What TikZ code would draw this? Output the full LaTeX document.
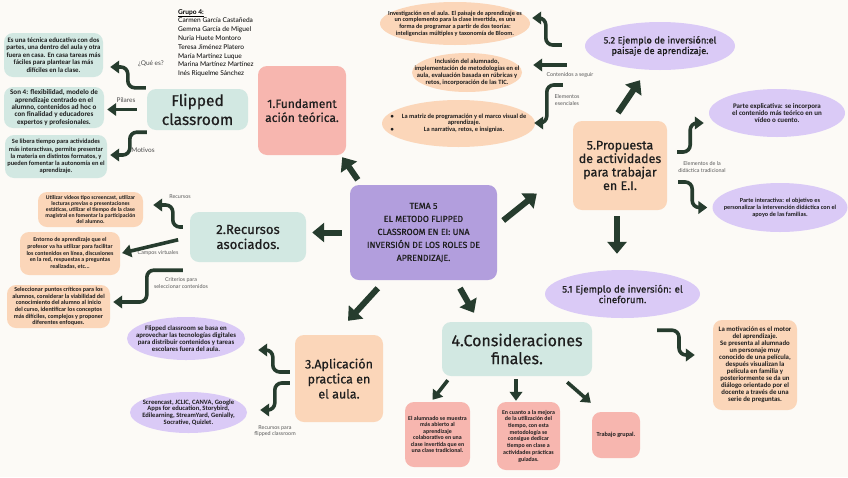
\documentclass[tikz,border=0pt]{standalone}
\usepackage{fontspec}
\setmainfont{Carlito}
\newfontfamily\titlefont{Fira Sans}[FakeBold=0.6]
\newfontfamily\labelfont{Lato}
\usepackage{tikz}
\usetikzlibrary{arrows.meta}
\usetikzlibrary{shapes.geometric}
\definecolor{paper}{HTML}{FCFAF6}
\definecolor{mint}{HTML}{D2E8E2}
\definecolor{peach}{HTML}{FBD6B9}
\definecolor{salmon}{HTML}{F7B6AF}
\definecolor{lilac}{HTML}{DACAF6}
\definecolor{temacol}{HTML}{B29EDD}
\definecolor{arrowcol}{HTML}{263C2E}
\definecolor{ink}{HTML}{1E1E1E}

\begin{document}
\begin{tikzpicture}[x=1pt,y=-1pt,
  card/.style={rectangle, rounded corners=9pt, inner sep=0pt, align=center, text=ink},
  oval/.style={ellipse, inner sep=-30pt, align=center, text=ink},
  sm/.style 2 args={font=\bfseries\fontsize{#1}{#2}\selectfont},
  ttl/.style 2 args={font=\titlefont\fontsize{#1}{#2}\selectfont},
  sidelabel/.style={font=\labelfont\fontsize{6.5}{7.5}\selectfont, text=black!70, inner sep=0pt, align=center},
  smalllabel/.style={font=\labelfont\fontsize{5.4}{6.4}\selectfont, text=black!65, inner sep=0pt, align=center},
  bigarrow/.style={arrowcol, line width=6pt, -{Triangle[width=19pt,length=12pt]}},
  linkarrow/.style={arrowcol, line width=3.6pt, rounded corners=7pt, -{Triangle[width=12.5pt,length=9pt]}}]

\fill[paper] (0,0) rectangle (848,477);
\useasboundingbox (0,0) rectangle (848,477);

\node[anchor=north west, align=left, inner sep=0pt, font=\labelfont\fontsize{6.6}{8.8}\selectfont] (grupo) at (178,9)
  {\underline{\textbf{Grupo 4:}}\\Carmen García Castañeda\\Gemma García de Miguel\\Nuria Huete Montoro\\Teresa Jiménez Platero\\María Martínez Luque\\Marina Martínez Martínez\\Inés Riquelme Sánchez};

\node[card, fill=temacol, minimum width=147, minimum height=95, ttl={8.8}{13}] (tema) at (423.5,232.5)
  {TEMA 5\\EL METODO FLIPPED\\CLASSROOM EN EI: UNA\\INVERSIÓN DE LOS ROLES DE\\APRENDIZAJE.};
\node[card, fill=mint, minimum width=101, minimum height=41, ttl={15.5}{19}] (flip) at (197.5,109.5) {Flipped\\classroom};
\node[card, fill=salmon, minimum width=88, minimum height=89, ttl={12}{14}] (fund) at (302,110.5) {1.Fundament\\ación teórica.};
\node[card, fill=mint, minimum width=116, minimum height=50, ttl={13.2}{15}] (rec) at (248,237) {2.Recursos\\asociados.};
\node[card, fill=peach, minimum width=88, minimum height=87, ttl={12.5}{15}] (apl) at (339,378.5) {3.Aplicación\\practica en\\el aula.};
\node[card, fill=mint, minimum width=150, minimum height=54, ttl={16}{18}] (cons) at (517,349) {4.Consideraciones\\finales.};
\node[card, fill=peach, minimum width=94, minimum height=89, ttl={12.5}{13.5}] (prop) at (620,165.5) {5.Propuesta\\de actividades\\para trabajar\\en E.I.};
\node[oval, fill=lilac, minimum width=150, minimum height=48, ttl={9.3}{10.5}] (ej52) at (660,46) {5.2 Ejemplo de inversión:el\\paisaje de aprendizaje.};
\node[oval, fill=lilac, minimum width=155, minimum height=48, ttl={9.8}{10.5}] (ej51) at (622.5,294) {5.1 Ejemplo de inversión: el\\cineforum.};

\node[card, fill=mint, minimum width=99, minimum height=44, sm={6.8}{7.4}] (que) at (53.5,55)
  {Es una técnica educativa con dos\\partes, una dentro del aula y otra\\fuera en casa. En casa tareas más\\fáciles para plantear las más\\difíciles en la clase.};
\node[card, fill=mint, minimum width=100, minimum height=41, sm={7.1}{7.4}] (pil) at (54,107.5)
  {Son 4: flexibilidad, modelo de\\aprendizaje centrado en el\\alumno, contenidos ad hoc o\\con finalidad y educadores\\expertos y profesionales.};
\node[card, fill=mint, minimum width=102, minimum height=43, sm={6.4}{7.2}] (mot) at (56,156.5)
  {Se libera tiempo para actividades\\más interactivas, permite presentar\\la materia en distintos formatos, y\\pueden fomentar la autonomía en el\\aprendizaje.};

\node[card, fill=peach, minimum width=105, minimum height=35, sm={5.7}{6.2}] (r1) at (90.5,209.5)
  {Utilizar vídeos tipo screencast, utilizar\\lecturas previas o presentaciones\\estáticas, utilizar el tiempo de la clase\\magistral en fomentar la participación\\del alumno.};
\node[card, fill=peach, minimum width=100, minimum height=43, sm={5.9}{6.8}] (r2) at (70,253.5)
  {Entorno de aprendizaje que el\\profesor va ha utilizar para facilitar\\los contenidos en línea, discusiones\\en la red, respuestas a preguntas\\realizadas, etc...};
\node[card, fill=peach, minimum width=103, minimum height=43, sm={6.1}{6.6}] (r3) at (58.5,306.5)
  {Seleccionar puntos críticos para los\\alumnos, considerar la viabilidad del\\conocimiento del alumno al inicio\\del curso, identificar los conceptos\\más difíciles, complejos y proponer\\diferentes enfoques.};

\node[oval, fill=peach, minimum width=150, minimum height=43, sm={6.2}{6.6}] (ov1) at (455,23.5)
  {Investigación en el aula. El paisaje de aprendizaje es\\un complemento para la clase invertida, es una\\forma de programar a partir de dos teorías:\\inteligencias múltiples y taxonomía de Bloom.};
\node[oval, fill=peach, minimum width=110, minimum height=39, sm={6.5}{7}] (ov2) at (467,72.5)
  {Inclusión del alumnado,\\implementación de metodologías en el\\aula, evaluación basada en rúbricas y\\retos, incorporación de las TIC.};
\node[oval, fill=peach, minimum width=153, minimum height=47, sm={6.4}{6.8}] (ov3) at (458.5,123.5)
  {\begin{tabular}{@{}l@{\hspace{8pt}}c@{}}\textbullet & La matriz de programación y el marco visual de\\ & aprendizaje.\\ \textbullet & La narrativa, retos, e insignias.\end{tabular}};

\node[oval, fill=lilac, minimum width=136, minimum height=48, sm={7}{7.4}] (expl) at (777,113)
  {Parte explicativa: se incorpora\\el contenido más teórico en un\\vídeo o cuento.};
\node[oval, fill=lilac, minimum width=135, minimum height=49, sm={6.2}{7}] (inter) at (780,207.5)
  {Parte interactiva: el objetivo es\\personalizar la intervención didáctica con el\\apoyo de las familias.};
\node[card, fill=peach, minimum width=84, minimum height=90, sm={6.8}{7}] (cine) at (755,365)
  {La motivación es el motor\\del aprendizaje.\\Se presenta al alumnado\\un personaje muy\\conocido de una película,\\después visualizan la\\película en familia y\\posteriormente se da un\\diálogo orientado por el\\docente a través de una\\serie de preguntas.};

\node[oval, fill=lilac, minimum width=118, minimum height=43, sm={6.8}{6.8}] (apl1) at (186,338.5)
  {Flipped classroom se basa en\\aprovechar las tecnologías digitales\\para distribuir contenidos y tareas\\escolares fuera del aula.};
\node[oval, fill=lilac, minimum width=117, minimum height=41, sm={6.6}{6.8}] (apl2) at (188.5,412.5)
  {Screencast, JCLIC, CANVA, Google\\Apps for education, Storybird,\\Edilearning, StreamYard, Genially,\\Socrative, Quizlet.};

\node[card, fill=salmon, minimum width=65, minimum height=65, sm={5.9}{6.5}] (cons1) at (437.5,434.5)
  {El alumnado se muestra\\más abierto al\\aprendizaje\\colaborativo en una\\clase invertida que en\\una clase tradicional.};
\node[card, fill=salmon, minimum width=63, minimum height=68, sm={5.9}{6.7}] (cons2) at (528.5,436)
  {En cuanto a la mejora\\de la utilización del\\tiempo, con esta\\metodología se\\consigue dedicar\\tiempo en clase a\\actividades prácticas\\guiadas.};
\node[card, fill=salmon, minimum width=48, minimum height=46, sm={6.2}{6.5}] (cons3) at (616,435) {Trabajo grupal.};

\node[sidelabel] (lque) at (151,64) {¿Qué es?};
\node[sidelabel] (lpil) at (126,100) {Pilares};
\node[sidelabel] (lmot) at (143,150) {Motivos};
\node[smalllabel] (lrec) at (180,197) {Recursos};
\node[smalllabel] (lcampos) at (158,253) {Campos virtuales};
\node[smalllabel] (lcrit) at (181,283) {Criterios para\\seleccionar contenidos};
\node[smalllabel] (lcont) at (570,75) {Contenidos a seguir};
\node[smalllabel] (lesen) at (567,100) {Elementos\\esenciales};
\node[smalllabel] (ldid) at (702,167) {Elementos de la\\didáctica tradicional};
\node[smalllabel] (lflip) at (275,431) {Recursos para\\flipped classroom};

\draw[bigarrow] ([shift={(8,-5)}]tema.north west) -- ([shift={(-4,2)}]fund.south east);
\draw[bigarrow, shorten <=8pt, shorten >=6pt] (tema.west) -- (tema.west -| rec.east);
\draw[bigarrow] ([shift={(28,8)}]tema.south west) -- ([shift={(9,-14)}]apl.north);
\draw[bigarrow] ([shift={(36.5,8)}]tema.south) -- ([shift={(-43,-9)}]cons.north);
\draw[bigarrow] ([shift={(6,-12)}]tema.east) -- ([shift={(-36,28)}]prop.west);
\draw[bigarrow] ([shift={(-2,-8)}]prop.north) -- ([shift={(-20,10)}]ej52.south);
\draw[bigarrow] ([shift={(-3,6)}]prop.south) -- ([shift={(-5.5,-16)}]ej51.north);

\draw[linkarrow] ([shift={(-1,-1)}]flip.north west) -- ++(-18,0) |- ([shift={(7,12)}]que.east);
\draw[linkarrow, shorten <=10pt, shorten >=3pt] (flip.west) -- (flip.west -| pil.east);
\draw[linkarrow] ([shift={(0,2)}]flip.south west) -- ++(-17,0) |- ([shift={(3,-1.5)}]mot.east);

\draw[linkarrow] ([shift={(-7,-10)}]rec.west) -- ++(-10,0) |- ([shift={(10,-4.5)}]r1.east);
\draw[linkarrow, shorten <=12pt, shorten >=2pt] (rec.west) -- (r2.east);
\draw[linkarrow] ([shift={(-7,8)}]rec.south west) -- ++(-36,0) |- ([shift={(3,-4.5)}]r3.east);

\draw[linkarrow] ([shift={(-23,-1)}]ej52.west) -- ++(-16,0) |- ([shift={(2,-5.5)}]ov1.east);
\draw[linkarrow] ([shift={(-18,19)}]ej52.west) -- ([shift={(11,-7.5)}]ov2.east);
\draw[linkarrow] ([shift={(-22,39)}]ej52.west) -- ++(-16,0) |- ([shift={(-1,-0.5)}]ov3.east);

\draw[linkarrow] ([shift={(10,-13.5)}]prop.east) -- ++(13,0) |- ([shift={(-5,10)}]expl.west);
\draw[linkarrow] ([shift={(11,16.5)}]prop.east) -- ++(14,0) |- ([shift={(-5,0)}]inter.west);
\draw[linkarrow] ([shift={(34.5,12)}]ej51.south) -- ++(22,0) |- ([shift={(-18,-10)}]cine.west);

\draw[linkarrow] ([shift={(-5,-6.5)}]apl.west) -- ++(-17,0) |- ([shift={(13,11.5)}]apl1.east);
\draw[linkarrow] ([shift={(-5,4.5)}]apl.west) -- ++(-15,0) |- ([shift={(13,-2.5)}]apl2.east);

\draw[linkarrow] ([shift={(6,4)}]cons.south west) -- ([shift={(-5,-2)}]cons1.north);
\draw[linkarrow] ([shift={(-1,3)}]cons.south) -- ([shift={(-12.5,-1)}]cons2.north);
\draw[linkarrow] ([shift={(-25,6)}]cons.south east) -- ([shift={(-1,-9)}]cons3.north west);
\end{tikzpicture}
\end{document}
